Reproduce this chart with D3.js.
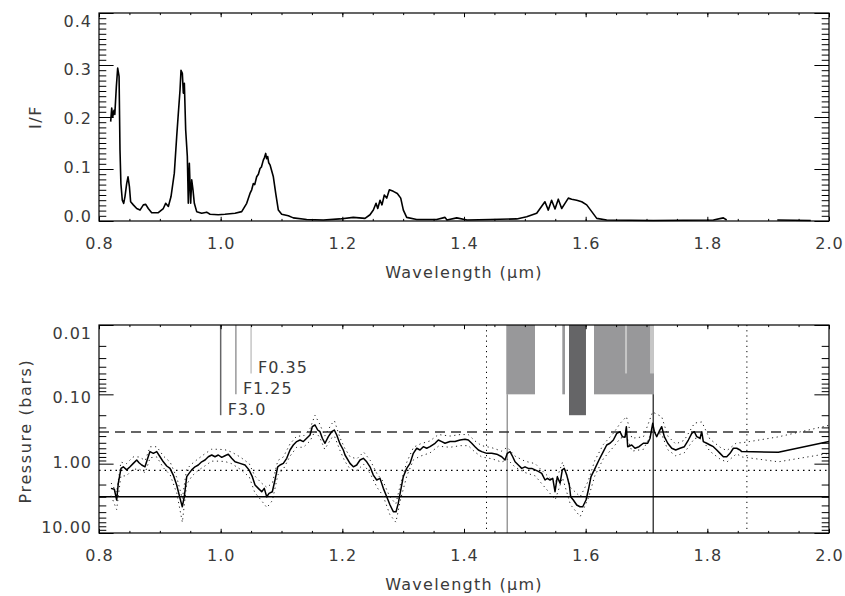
<!DOCTYPE html>
<html>
<head>
<meta charset="utf-8">
<script src="https://cdn.jsdelivr.net/npm/d3@7"></script>
<style>
body { margin: 0; background: #fff; }
text { font-family: "DejaVu Sans", sans-serif; font-weight: normal; font-size: 16px; fill: #3a3a3a; letter-spacing: 1px; }
</style>
</head>
<body>
<div id="chart"></div>
<script>
// I/F spectrum, [wavelength um, I/F]
var spectrum = [
  [0.8192,0.191],[0.8209,0.217],[0.8225,0.200],[0.8247,0.213],[0.8260,0.205],[0.8285,0.258],
  [0.8307,0.294],[0.8330,0.278],[0.8345,0.137],[0.8360,0.072],[0.8383,0.040],[0.8406,0.034],
  [0.8427,0.047],[0.8455,0.072],[0.8477,0.085],[0.8500,0.066],[0.8520,0.037],[0.8564,0.031],
  [0.8620,0.024],[0.8674,0.021],[0.8729,0.031],[0.8768,0.032],[0.8810,0.024],[0.8866,0.016],
  [0.8975,0.016],[0.9057,0.024],[0.9096,0.034],[0.9140,0.028],[0.9184,0.047],[0.9238,0.092],
  [0.9277,0.162],[0.9304,0.207],[0.9332,0.252],[0.9348,0.290],[0.9370,0.284],[0.9386,0.246],
  [0.9403,0.265],[0.9425,0.175],[0.9452,0.124],[0.9468,0.034],[0.9485,0.111],[0.9507,0.034],
  [0.9524,0.079],[0.9545,0.060],[0.9567,0.034],[0.9606,0.018],[0.9688,0.015],[0.9770,0.017],
  [0.9825,0.013],[0.9960,0.012],[1.0070,0.013],[1.0236,0.015],[1.0346,0.018],[1.0428,0.034],
  [1.0482,0.053],[1.0510,0.060],[1.0537,0.072],[1.0560,0.070],[1.0592,0.085],[1.0620,0.090],
  [1.0647,0.101],[1.0670,0.104],[1.0701,0.117],[1.0720,0.122],[1.0740,0.130],[1.0755,0.120],
  [1.0773,0.124],[1.0790,0.112],[1.0811,0.108],[1.0866,0.085],[1.0905,0.053],[1.0948,0.021],
  [1.1003,0.013],[1.1112,0.010],[1.1194,0.006],[1.1414,0.003],[1.1688,0.002],[1.1960,0.004],
  [1.2180,0.007],[1.2373,0.005],[1.2455,0.012],[1.2510,0.021],[1.2554,0.034],[1.2582,0.024],
  [1.2620,0.040],[1.2652,0.031],[1.2690,0.050],[1.2730,0.044],[1.2773,0.060],[1.2838,0.057],
  [1.2904,0.053],[1.2960,0.044],[1.3003,0.021],[1.3058,0.007],[1.3222,0.003],[1.3551,0.003],
  [1.3688,0.007],[1.3720,0.002],[1.3880,0.006],[1.4050,0.002],[1.4428,0.003],[1.4867,0.004],
  [1.5030,0.008],[1.5195,0.015],[1.5330,0.037],[1.5386,0.021],[1.5440,0.040],[1.5496,0.023],
  [1.5550,0.042],[1.5606,0.024],[1.5660,0.034],[1.5715,0.044],[1.5770,0.042],[1.5853,0.040],
  [1.5935,0.037],[1.6017,0.031],[1.6100,0.018],[1.6182,0.005],[1.6346,0.002],[1.7113,0.001],
  [1.8100,0.002],[1.8263,0.006],[1.8318,0.002],[1.8350,null],[1.9150,0.002],[1.9700,0.001]
];

// retrieved cloud pressure (bars), [wavelength um, pressure]
var pressure = [
  [0.8197,2.27],[0.8252,2.34],[0.8291,3.34],[0.8317,1.92],[0.8362,1.17],[0.8399,1.11],
  [0.8455,1.23],[0.8510,1.11],[0.8564,0.99],[0.8620,0.885],[0.8658,0.97],[0.8702,1.045],
  [0.8756,1.11],[0.8801,0.837],[0.8838,0.67],[0.8893,0.71],[0.8949,0.67],[0.9003,0.795],
  [0.9057,0.94],[0.9113,1.08],[0.9167,1.17],[0.9221,1.46],[0.9277,2.03],[0.9332,3.16],
  [0.9369,4.18],[0.9402,3.0],[0.9442,1.54],[0.9480,1.38],[0.9524,1.23],[0.9578,1.11],
  [0.9632,1.045],[0.9688,0.94],[0.9743,0.885],[0.9797,0.795],[0.9853,0.75],[0.9907,0.795],
  [0.9961,0.75],[1.0017,0.81],[1.0071,0.77],[1.0126,0.73],[1.0181,0.837],[1.0236,0.94],
  [1.0318,0.99],[1.0400,1.045],[1.0466,1.23],[1.0520,1.54],[1.0565,2.03],[1.0619,2.27],
  [1.0675,2.54],[1.0717,2.27],[1.0757,3.0],[1.0795,2.68],[1.0849,2.54],[1.0893,1.72],
  [1.0938,1.11],[1.0976,1.045],[1.1030,0.99],[1.1086,0.837],[1.1140,0.635],[1.1194,0.538],
  [1.1250,0.48],[1.1304,0.456],[1.1359,0.48],[1.1414,0.43],[1.1469,0.386],[1.1506,0.293],
  [1.1551,0.277],[1.1595,0.327],[1.1633,0.346],[1.1671,0.43],[1.1715,0.508],[1.1770,0.408],
  [1.1825,0.346],[1.1868,0.327],[1.1908,0.386],[1.1962,0.52],[1.2016,0.635],[1.2044,0.75],
  [1.2126,0.99],[1.2181,1.11],[1.2236,1.045],[1.2291,0.885],[1.2345,0.837],[1.2401,0.94],
  [1.2455,1.11],[1.2509,1.46],[1.2565,1.72],[1.2619,1.63],[1.2674,2.27],[1.2730,3.0],
  [1.2784,3.95],[1.2838,4.93],[1.2883,4.93],[1.2920,3.72],[1.2960,2.4],[1.3002,1.54],
  [1.3058,1.17],[1.3113,0.99],[1.3167,0.71],[1.3223,0.6],[1.3277,0.635],[1.3331,0.569],
  [1.3387,0.6],[1.3441,0.569],[1.3524,0.508],[1.3578,0.456],[1.3634,0.48],[1.3688,0.508],
  [1.3770,0.48],[1.3852,0.48],[1.3935,0.456],[1.4017,0.445],[1.4071,0.456],[1.4127,0.508],
  [1.4181,0.569],[1.4236,0.635],[1.4291,0.67],[1.4374,0.71],[1.4456,0.71],[1.4538,0.73],
  [1.4620,0.795],[1.4674,0.885],[1.4712,0.71],[1.4757,0.67],[1.4801,0.795],[1.4839,0.94],
  [1.4893,1.045],[1.4949,1.17],[1.5003,1.11],[1.5057,1.17],[1.5113,1.17],[1.5168,1.23],
  [1.5222,1.29],[1.5278,1.38],[1.5332,1.72],[1.5370,1.63],[1.5414,1.72],[1.5459,1.63],
  [1.5496,2.54],[1.5534,1.54],[1.5579,1.92],[1.5616,1.23],[1.5649,1.17],[1.5689,1.46],
  [1.5731,2.03],[1.5754,3.0],[1.5797,3.34],[1.5853,3.95],[1.5907,4.18],[1.5952,4.18],
  [1.6006,3.34],[1.6044,2.4],[1.6088,1.54],[1.6154,1.17],[1.6219,0.885],[1.6290,0.67],
  [1.6346,0.538],[1.6400,0.508],[1.6455,0.456],[1.6511,0.365],[1.6565,0.346],[1.6603,0.408],
  [1.6647,0.415],[1.6669,0.293],[1.6691,0.569],[1.6757,0.538],[1.6811,0.6],[1.6877,0.569],
  [1.6948,0.508],[1.7020,0.508],[1.7058,0.43],[1.7102,0.262],[1.7129,0.346],[1.7168,0.408],
  [1.7206,0.346],[1.7250,0.293],[1.7293,0.408],[1.7349,0.508],[1.7415,0.6],[1.7480,0.635],
  [1.7551,0.6],[1.7622,0.569],[1.7688,0.456],[1.7744,0.365],[1.7786,0.346],[1.7826,0.408],
  [1.7880,0.43],[1.7908,0.346],[1.7934,0.48],[1.7990,0.508],[1.8044,0.538],[1.8099,0.569],
  [1.8155,0.635],[1.8209,0.71],[1.8263,0.795],[1.8319,0.795],[1.8373,0.71],[1.8428,0.6],
  [1.8483,0.6],[1.8537,0.635],[1.8565,0.67],[1.9167,0.685],[2.0000,0.48]
];

// error envelope (dotted)
var boundWave = [0.820,0.829,0.836,0.845,0.856,0.866,0.876,0.884,0.895,0.906,
  0.917,0.928,0.937,0.944,0.953,0.963,0.974,0.985,0.996,1.007,
  1.018,1.032,1.047,1.056,1.067,1.076,1.085,1.094,1.103,1.114,
  1.125,1.136,1.147,1.155,1.163,1.171,1.182,1.187,1.196,1.204,
  1.213,1.224,1.235,1.246,1.257,1.267,1.278,1.288,1.296,1.306,
  1.317,1.328,1.344,1.358,1.377,1.394,1.407,1.418,1.429,1.446,
  1.462,1.471,1.484,1.500,1.517,1.533,1.550,1.562,1.575,1.591,
  1.604,1.615,1.629,1.646,1.657,1.667,1.676,1.695,1.710,1.725,
  1.735,1.748,1.762,1.779,1.791,1.804,1.821,1.832,1.848,1.857,
  1.917,2.000];
var boundUpper = [1.9,2.6,0.95,1.0,0.8,0.8,0.9,0.57,0.57,0.78,
  0.95,1.6,3.2,1.2,1.0,0.85,0.72,0.62,0.62,0.63,
  0.68,0.8,1.0,1.5,1.9,2.2,1.9,0.9,0.8,0.52,
  0.4,0.4,0.31,0.2,0.27,0.4,0.27,0.24,0.42,0.6,
  0.8,0.85,0.68,0.9,1.4,1.8,3.0,3.8,1.9,0.95,
  0.58,0.52,0.47,0.38,0.4,0.38,0.38,0.47,0.55,0.59,
  0.66,0.58,0.78,0.92,1.0,1.38,1.9,0.95,2.2,3.0,
  1.8,0.9,0.53,0.36,0.26,0.21,0.43,0.41,0.18,0.21,
  0.4,0.52,0.46,0.26,0.25,0.44,0.58,0.65,0.5,0.5,
  0.41,0.28];
var boundLower = [2.9,4.6,1.5,1.5,1.2,1.2,1.35,0.82,0.8,1.15,
  1.45,2.7,7.0,2.0,1.5,1.25,1.08,0.92,0.92,0.93,
  1.0,1.2,1.55,2.6,3.4,4.3,3.4,1.45,1.2,0.78,
  0.58,0.58,0.47,0.34,0.42,0.62,0.43,0.4,0.64,0.92,
  1.2,1.25,1.02,1.4,2.2,2.9,5.4,7.0,3.2,1.5,
  0.88,0.78,0.7,0.56,0.58,0.55,0.55,0.68,0.8,0.85,
  0.95,0.86,1.12,1.34,1.5,2.2,3.3,1.6,3.9,5.8,
  3.2,1.5,0.85,0.57,0.43,0.4,0.66,0.62,0.34,0.38,
  0.63,0.77,0.7,0.43,0.44,0.66,0.86,0.95,0.72,0.8,
  0.94,0.71];

// reference cloud levels (bars)
var levelP = [0.35, 1.25, 3.0];
// filter markers
var filterWave = [1.0, 1.025, 1.05];
var filterP = [0.2, 0.1, 0.05];
var filterNames = ["F3.0", "F1.25", "F0.35"];
// sensitivity bands
var bandStart = [1.4695, 1.5616, 1.6137, 1.5726, 1.6647, 1.7058];
var bandEnd   = [1.5167, 1.5660, 1.7123, 1.6005, 1.6680, 1.7123];
var bandP     = [0.10, 0.10, 0.10, 0.20, 0.05, 0.05];
var dottedWave = [1.437, 1.865];
var edgeWave = [1.471, 1.711];

var waveTicks = [0.8, 1.0, 1.2, 1.4, 1.6, 1.8, 2.0];
var ifTicks = [0, 0.1, 0.2, 0.3, 0.4];
var pTicks = [0.01, 0.1, 1, 10];

var shade = { 0.2: "#656567", 0.1: "#98989a", 0.05: "#c6c6c6" };
var levelDash = ["10,6", "1.5,4", null];

var svg = d3.select("#chart").append("svg")
  .attr("width", 845)
  .attr("height", 596)
  .style("background", "#fff");

var x = d3.scaleLinear().domain([0.8, 2.0]).range([99, 829]);
var yIF = d3.scaleLinear().domain([0, 0.4]).range([221, 13]);
var yIFLab = d3.scaleLinear().domain([0, 0.4]).range([216, 21]);
var yP = d3.scaleLog().domain([0.01, 10]).range([325, 533]);
var yPLab = d3.scaleLog().domain([0.01, 10]).range([333, 527]);

var waveMinor = d3.range(0.8, 2.001, 0.05);
var ifMinor = d3.range(0, 0.4001, 0.01);
var pMinor = [];
[0.01, 0.1, 1].forEach(function (d) {
  for (var k = 2; k <= 9; k++) pMinor.push(d * k);
});

function drawFrame(y, yLab, yTicks, yMinor, yFmt) {
  var top = Math.min(y.range()[0], y.range()[1]);
  var bot = Math.max(y.range()[0], y.range()[1]);
  var g = svg.append("g").attr("color", "#000");

  g.append("g").attr("transform", "translate(0," + bot + ")")
    .call(d3.axisBottom(x).tickValues(waveTicks).tickFormat(d3.format(".1f"))
      .tickSizeInner(-4.2).tickSizeOuter(0).tickPadding(17));
  g.append("g").attr("transform", "translate(0," + bot + ")")
    .call(d3.axisBottom(x).tickValues(waveMinor).tickFormat("").tickSizeInner(-2.1).tickSizeOuter(0));
  g.append("g").attr("transform", "translate(0," + top + ")")
    .call(d3.axisTop(x).tickValues(waveTicks).tickFormat("").tickSizeInner(-4.2).tickSizeOuter(0));
  g.append("g").attr("transform", "translate(0," + top + ")")
    .call(d3.axisTop(x).tickValues(waveMinor).tickFormat("").tickSizeInner(-2.1).tickSizeOuter(0));

  var left = g.append("g").attr("transform", "translate(99,0)")
    .call(d3.axisLeft(y).tickValues(yTicks).tickFormat(yFmt)
      .tickSizeInner(-14.6).tickSizeOuter(0).tickPadding(7));
  left.selectAll(".tick text")
    .attr("transform", function (d) { return "translate(0," + (yLab(d) - y(d)) + ")"; });
  g.append("g").attr("transform", "translate(99,0)")
    .call(d3.axisLeft(y).tickValues(yMinor).tickFormat("").tickSizeInner(-7.3).tickSizeOuter(0));
  g.append("g").attr("transform", "translate(829,0)")
    .call(d3.axisRight(y).tickValues(yTicks).tickFormat("").tickSizeInner(-14.6).tickSizeOuter(0));
  g.append("g").attr("transform", "translate(829,0)")
    .call(d3.axisRight(y).tickValues(yMinor).tickFormat("").tickSizeInner(-7.3).tickSizeOuter(0));

  g.selectAll(".domain").remove();
  g.selectAll("g").attr("font-size", null).attr("font-family", null);
  g.selectAll(".tick line").attr("stroke-width", 1);

  g.append("rect")
    .attr("x", 99).attr("y", top)
    .attr("width", 730).attr("height", bot - top)
    .attr("fill", "none")
    .attr("stroke", "#000")
    .attr("stroke-width", 1.2);
}

function main() {
  // ---- top panel
  var lineIF = d3.line()
    .defined(function (d) { return d[1] !== null; })
    .x(function (d) { return x(d[0]); })
    .y(function (d) { return yIF(d[1]); });

  svg.append("path")
    .datum(spectrum)
    .attr("d", lineIF)
    .attr("fill", "none")
    .attr("stroke", "#000")
    .attr("stroke-width", 1.6)
    .attr("stroke-linejoin", "round");

  drawFrame(yIF, yIFLab, ifTicks, ifMinor, d3.format(".1f"));

  svg.append("text")
    .attr("x", 464).attr("y", 278)
    .attr("text-anchor", "middle")
    .style("letter-spacing", "1.3px")
    .text("Wavelength (\u03bcm)");
  svg.append("text")
    .attr("transform", "translate(41,117) rotate(-90)")
    .attr("text-anchor", "middle")
    .style("letter-spacing", "1.5px")
    .text("I/F");

  // ---- bottom panel
  var bands = svg.append("g");
  bandStart.forEach(function (w, i) {
    bands.append("rect")
      .attr("x", x(w))
      .attr("y", yP(0.01))
      .attr("width", x(bandEnd[i]) - x(w))
      .attr("height", yP(bandP[i]) - yP(0.01))
      .attr("fill", shade[bandP[i]]);
  });

  filterWave.forEach(function (w, i) {
    svg.append("line")
      .attr("x1", x(w)).attr("x2", x(w))
      .attr("y1", yP(0.01)).attr("y2", yP(filterP[i]))
      .attr("stroke", shade[filterP[i]])
      .attr("stroke-width", 1.5);
    svg.append("text")
      .attr("x", x(w) + 7)
      .attr("y", yP(filterP[i]))
      .text(filterNames[i]);
  });

  edgeWave.forEach(function (w, i) {
    svg.append("line")
      .attr("x1", x(w)).attr("x2", x(w))
      .attr("y1", yP(0.1)).attr("y2", yP(10))
      .attr("stroke", i == 0 ? "#777" : "#000")
      .attr("stroke-width", 1.1);
  });

  dottedWave.forEach(function (w) {
    svg.append("line")
      .attr("x1", x(w)).attr("x2", x(w))
      .attr("y1", yP(0.01)).attr("y2", yP(10))
      .attr("stroke", "#000")
      .attr("stroke-width", 1)
      .attr("stroke-dasharray", "1.2,4");
  });

  levelP.forEach(function (p, i) {
    svg.append("line")
      .attr("x1", x(0.8)).attr("x2", x(2.0))
      .attr("y1", yP(p)).attr("y2", yP(p))
      .attr("stroke", i == 0 ? "#333" : "#000")
      .attr("stroke-width", i == 0 ? 1.6 : 1.3)
      .attr("stroke-dasharray", levelDash[i]);
  });

  var lineP = d3.line()
    .x(function (d) { return x(d[0]); })
    .y(function (d) { return yP(d[1]); });

  [boundUpper, boundLower].forEach(function (b) {
    svg.append("path")
      .datum(boundWave.map(function (w, i) { return [w, b[i]]; }))
      .attr("d", lineP)
      .attr("fill", "none")
      .attr("stroke", "#222")
      .attr("stroke-width", 1)
      .attr("stroke-dasharray", "1.2,3.5");
  });

  svg.append("path")
    .datum(pressure)
    .attr("d", lineP)
    .attr("fill", "none")
    .attr("stroke", "#000")
    .attr("stroke-width", 1.5)
    .attr("stroke-linejoin", "round");

  drawFrame(yP, yPLab, pTicks, pMinor, d3.format(".2f"));

  svg.append("text")
    .attr("x", 464).attr("y", 590)
    .attr("text-anchor", "middle")
    .style("letter-spacing", "1.3px")
    .text("Wavelength (\u03bcm)");
  svg.append("text")
    .attr("transform", "translate(31,431) rotate(-90)")
    .attr("text-anchor", "middle")
    .style("letter-spacing", "1.6px")
    .text("Pressure (bars)");
}

main();
</script>
</body>
</html>
